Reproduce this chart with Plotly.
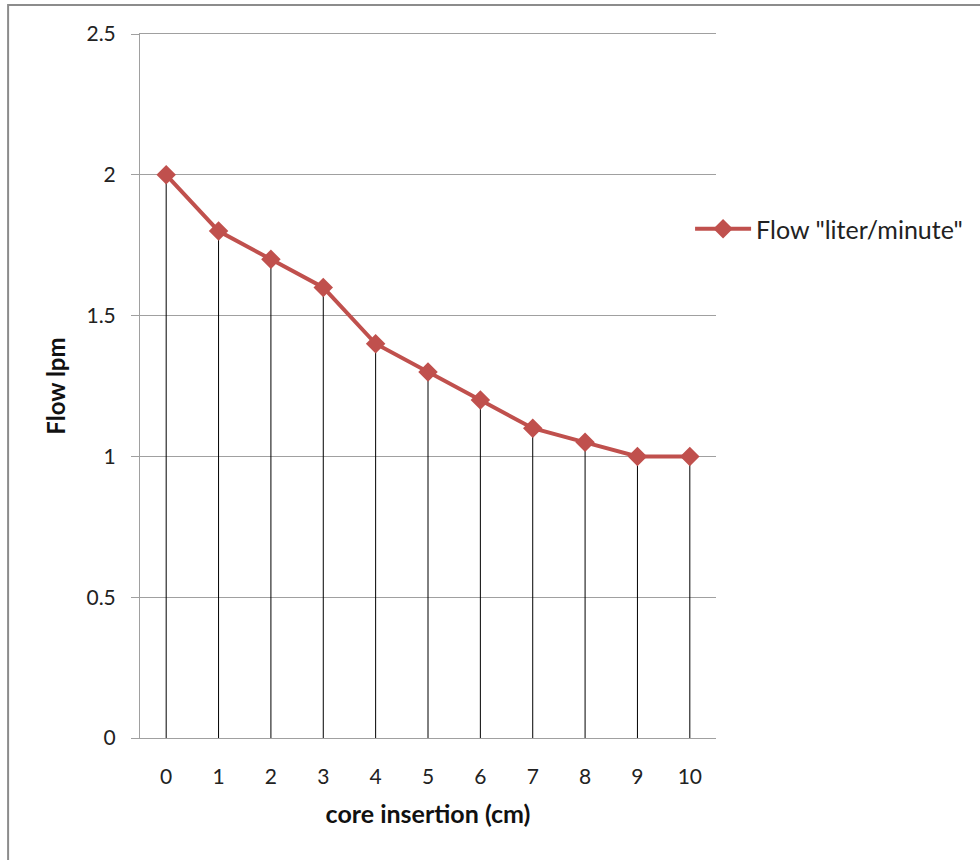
import plotly.graph_objects as go

insertion_cm = [0, 1, 2, 3, 4, 5, 6, 7, 8, 9, 10]
flow_lpm = [2.0, 1.8, 1.7, 1.6, 1.4, 1.3, 1.2, 1.1, 1.05, 1.0, 1.0]
series_name = 'Flow "liter/minute"'
y_ticks = [0, 0.5, 1, 1.5, 2, 2.5]
y_tick_text = ["0", "0.5", "1", "1.5", "2", "2.5"]

FONT = "Lato, 'Open Sans', sans-serif"
RED = "#C0504D"

# drop lines from each point to the axis
drop_x, drop_y = [], []
for xv, yv in zip(insertion_cm, flow_lpm):
    drop_x += [xv, xv, None]
    drop_y += [0, yv, None]

fig = go.Figure()
fig.add_trace(go.Scatter(x=drop_x, y=drop_y, mode="lines",
                         line=dict(color="black", width=1),
                         showlegend=False, hoverinfo="skip"))
fig.add_trace(go.Scatter(x=insertion_cm, y=flow_lpm, mode="lines+markers",
                         name=series_name,
                         line=dict(color=RED, width=4),
                         marker=dict(symbol="diamond", size=15, color=RED)))

fig.update_layout(
    width=980, height=860,
    margin=dict(l=140, r=264, t=34, b=122),
    paper_bgcolor="white", plot_bgcolor="white",
    font=dict(family=FONT, color="#222222", size=20),
    legend=dict(x=0.955, y=0.723, xanchor="left", yanchor="middle",
                font=dict(size=25, family=FONT, color="#222222"),
                bgcolor="rgba(0,0,0,0)", itemwidth=56),
    shapes=[dict(type="rect", xref="paper", yref="paper",
                 x0=-0.229, x1=1.5, y0=-0.2, y1=1.0412,
                 line=dict(color="#8c8c8c", width=2), layer="below")],
)
fig.update_xaxes(range=[-0.5, 10.5], tickmode="array", tickvals=insertion_cm,
                 ticktext=[str(v) for v in insertion_cm],
                 showgrid=False, zeroline=False,
                 showline=True, mirror=True, linecolor="#a0a0a0", linewidth=1,
                 ticks="", ticklabelstandoff=20,
                 tickfont=dict(size=21, family=FONT, color="#222222"),
                 title=dict(text="<b>core insertion (cm)</b>", standoff=18,
                            font=dict(size=25, family=FONT, color="#111111")))
fig.update_yaxes(range=[0, 2.5], tickmode="array", tickvals=y_ticks,
                 ticktext=y_tick_text,
                 showgrid=True, gridcolor="#a0a0a0", gridwidth=1,
                 zeroline=False, showline=True, linecolor="#a0a0a0", linewidth=1,
                 ticks="outside", ticklen=8, tickcolor="#a0a0a0",
                 ticklabelstandoff=11,
                 tickfont=dict(size=21, family=FONT, color="#222222"),
                 title=dict(text="<b>Flow lpm</b>", standoff=14,
                            font=dict(size=24, family=FONT, color="#111111")))

fig.write_html("out.html")
